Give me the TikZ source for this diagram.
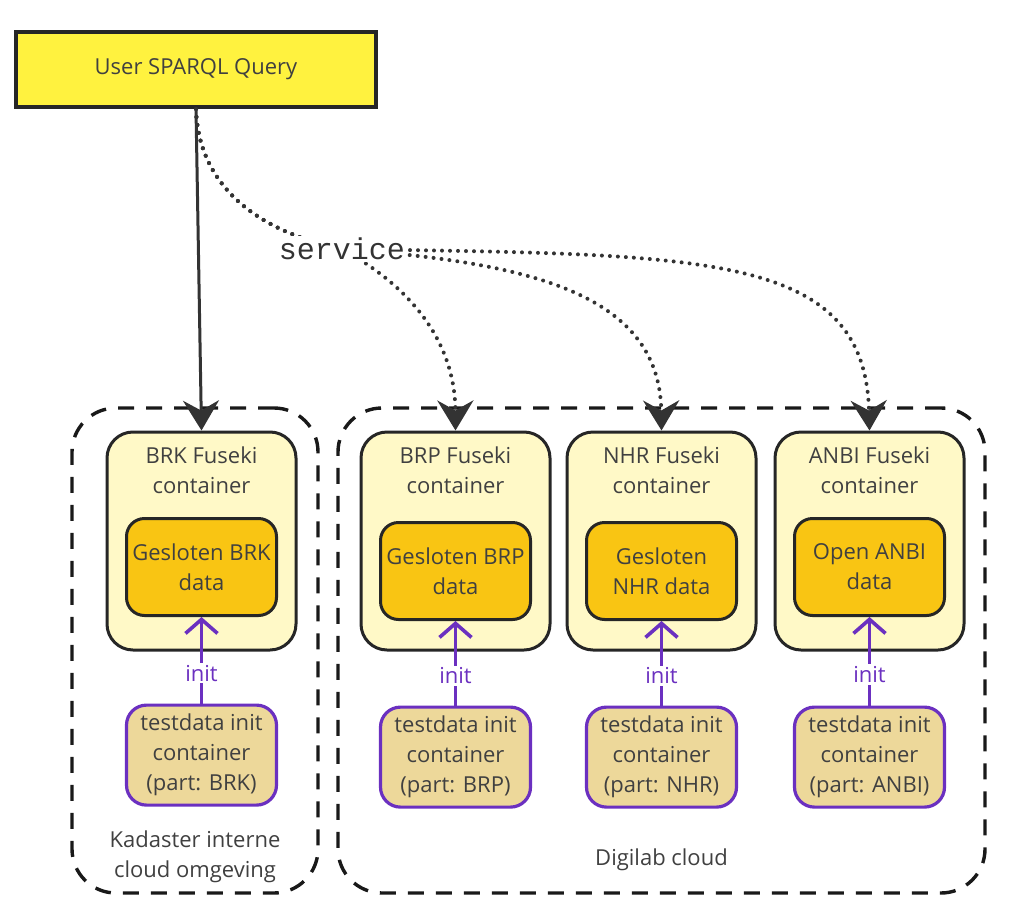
\documentclass[tikz,border=0pt]{standalone}
\usepackage{fontspec}
\setmainfont{Open Sans}
\setmonofont{Liberation Mono}
\usetikzlibrary{arrows.meta,positioning}

\definecolor{queryyellow}{HTML}{FFF23F}
\definecolor{fusekifill}{HTML}{FFF9C7}
\definecolor{datafill}{HTML}{F9C513}
\definecolor{initfill}{HTML}{EDD89A}
\definecolor{initpurple}{HTML}{6B30C0}
\definecolor{darkline}{HTML}{333333}
\definecolor{textgray}{HTML}{404040}

\tikzset{
  query/.style={draw=black!85, line width=2pt, fill=queryyellow, text=textgray,
    minimum width=180pt, minimum height=37.5pt},
  cloudbox/.style={draw=black!90, line width=1.7pt, dash pattern=on 8pt off 6pt,
    rounded corners=22pt, minimum height=242.5pt},
  cloudlabel/.style={text=textgray, align=center, inner sep=0pt},
  fuseki/.style={draw=black!85, line width=1.5pt, fill=fusekifill, rounded corners=13pt,
    minimum width=94.5pt, minimum height=109pt},
  fusekititle/.style={text=textgray, align=center, inner sep=0pt},
  data/.style={draw=black!85, line width=1.5pt, fill=datafill, rounded corners=9pt, text=textgray,
    align=center, minimum width=75pt, minimum height=48.5pt, inner sep=1pt},
  testdata/.style={draw=initpurple, line width=1.6pt, fill=initfill, rounded corners=10pt, text=textgray,
    align=center, minimum width=75pt, minimum height=50pt, inner sep=1pt},
  query arrow/.style={-{Stealth[length=15pt,width=18pt,inset=5pt]}, line width=1.5pt, draw=darkline},
  service arrow/.style={query arrow, line width=2pt, dash pattern=on 0pt off 4pt, line cap=round},
  init arrow/.style={-{Straight Barb[length=7pt,width=16pt]}, line width=1.8pt, draw=initpurple},
  initlabel/.style={fill=white, text=initpurple, inner sep=1pt}
}

\begin{document}
\begin{tikzpicture}[x=0.5pt,y=-0.5pt,font=\fontsize{11}{15}\selectfont]
  \useasboundingbox (0,0) rectangle (1016,920);

  \node[cloudbox, minimum width=123pt] (kadaster) at (195,650.5) {};
  \node[cloudbox, minimum width=323.5pt] (digilab) at (661.5,650.5) {};
  \node[cloudlabel, above=6pt of kadaster.south] (kadasterlabel) {Kadaster interne\\cloud omgeving};
  \node[cloudlabel, above=12pt of digilab.south] (digilablabel) {Digilab cloud};

  \node[query] (query) at (196,69.5) {User SPARQL Query};

  \node[fuseki] (brk) at (201.5,541) {};
  \node[fuseki, right=31pt of brk] (brp) {};
  \node[fuseki, right=7pt of brp] (nhr) {};
  \node[fuseki, right=8pt of nhr] (anbi) {};

  \node[fusekititle, below=8pt of brk.north] (brktitle) {BRK Fuseki\\container};
  \node[fusekititle, below=8pt of brp.north] (brptitle) {BRP Fuseki\\container};
  \node[fusekititle, below=8pt of nhr.north] (nhrtitle) {NHR Fuseki\\container};
  \node[fusekititle, below=8pt of anbi.north] (anbititle) {ANBI Fuseki\\container};

  \node[data] (brkdata) at ([yshift=-13pt]brk.center) {Gesloten BRK\\data};
  \node[data] (brpdata) at ([yshift=-15pt]brp.center) {Gesloten BRP\\data};
  \node[data] (nhrdata) at ([yshift=-15pt]nhr.center) {Gesloten\\NHR data};
  \node[data] (anbidata) at ([yshift=-13pt]anbi.center) {Open ANBI\\data};

  \node[testdata, below=26pt of brk] (brkinit) {testdata init\\container\\(part: BRK)};
  \node[testdata, below=27pt of brp] (brpinit) {testdata init\\container\\(part: BRP)};
  \node[testdata, below=27pt of nhr] (nhrinit) {testdata init\\container\\(part: NHR)};
  \node[testdata, below=27pt of anbi] (anbiinit) {testdata init\\container\\(part: ANBI)};

  \coordinate (svc) at (342,249);
  \draw[query arrow] (query.south) -- (brk.north);
  \draw[service arrow] (query.south) .. controls (198,180) and (250,230) .. (svc)
    .. controls (380,270) and (455,320) .. (brp.north);
  \draw[service arrow] (query.south) .. controls (198,180) and (250,230) .. (svc)
    .. controls (520,262) and (660,290) .. (nhr.north);
  \draw[service arrow] (query.south) .. controls (198,180) and (250,230) .. (svc)
    .. controls (700,255) and (865,250) .. (anbi.north);
  \node[fill=white, inner sep=1pt, text=darkline, font=\ttfamily\fontsize{15}{15}\selectfont] (service) at (svc) {service};

  \draw[init arrow] (brkinit) -- node[initlabel, pos=0.35] {init} (brkdata);
  \draw[init arrow] (brpinit) -- node[initlabel, pos=0.35] {init} (brpdata);
  \draw[init arrow] (nhrinit) -- node[initlabel, pos=0.35] {init} (nhrdata);
  \draw[init arrow] (anbiinit) -- node[initlabel, pos=0.35] {init} (anbidata);
\end{tikzpicture}
\end{document}
